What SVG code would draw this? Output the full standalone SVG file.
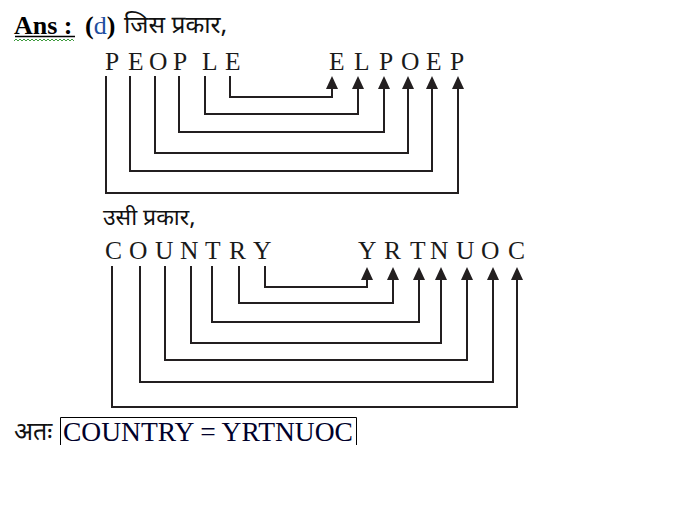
<svg xmlns="http://www.w3.org/2000/svg" width="678" height="507" viewBox="0 0 678 507">
<defs>
<style>
.lat{font-family:"Liberation Serif","Times New Roman",serif;font-size:25.5px;fill:#1a1a1a}
.dev{font-family:"Noto Sans Devanagari","Noto Sans","Lohit Devanagari",sans-serif;font-size:23px;fill:#111}
.conn{fill:none;stroke:#231f20;stroke-width:2;marker-end:url(#ah)}
</style>
<marker id="ah" markerUnits="userSpaceOnUse" markerWidth="13" markerHeight="13" viewBox="0 0 13 13" refX="1" refY="6.5" orient="auto">
<path d="M0,0.5 L13,6.5 L0,12.5 z" fill="#231f20"/>
</marker>
</defs>
<rect width="678" height="507" fill="#fff"/>
<g id="header">
<text x="14" y="34" style="font-family:'Liberation Serif',serif;font-size:26px;font-weight:bold;fill:#000">Ans :</text>
<line x1="15" y1="36.5" x2="75" y2="36.5" stroke="#000" stroke-width="1.5"/>
<path d="M14 41 l2 -2 l2 2 l2 -2 l2 2 l2 -2 l2 2 l2 -2 l2 2 l2 -2 l2 2 l2 -2 l2 2 l2 -2 l2 2 l2 -2 l2 2 l2 -2 l2 2 l2 -2 l2 2 l2 -2 l2 2 l2 -2 l2 2 l2 -2 l2 2 l2 -2 l2 2 l2 -2 l2 2" fill="none" stroke="#3c9a3c" stroke-width="1"/>
<text x="85" y="34" style="font-family:'Liberation Serif',serif;font-size:26px;font-weight:bold;fill:#000">(<tspan font-weight="normal" fill="#1f4f9f">d</tspan>)</text>
<text class="dev" x="124" y="33" style="font-size:24.5px">जिस प्रकार,</text>
</g>
<g id="people">
<text class="lat" x="105 128 149 173 202 225" y="70">PEOPLE</text>
<text class="lat" x="329 354 379 401 426 450" y="70">ELPOEP</text>
</g>
<g id="people-connectors">
<path class="conn" d="M230 76 V97 H332 V88"/>
<path class="conn" d="M205 76 V114 H358 V88"/>
<path class="conn" d="M179 76 V132 H384 V88"/>
<path class="conn" d="M155 76 V153 H408 V88"/>
<path class="conn" d="M130 76 V171 H432 V88"/>
<path class="conn" d="M106 76 V193 H458 V88"/>
</g>
<g id="subhead">
<text class="dev" x="103" y="225">उसी प्रकार,</text>
</g>
<g id="country">
<text class="lat" x="105 129 155 180 205 229 253" y="259">COUNTRY</text>
<text class="lat" x="358 384 410 430 456 481 508" y="259">YRTNUOC</text>
</g>
<g id="country-connectors">
<path class="conn" d="M265 266 V287 H367 V279"/>
<path class="conn" d="M239 266 V303 H393 V279"/>
<path class="conn" d="M212 266 V322 H419 V279"/>
<path class="conn" d="M191 266 V343 H441 V279"/>
<path class="conn" d="M165 266 V360 H467 V279"/>
<path class="conn" d="M140 266 V382 H493 V279"/>
<path class="conn" d="M112 266 V407 H517 V279"/>
</g>
<g id="result">
<text class="dev" x="14" y="440" style="font-size:25px">अतः</text>
<path d="M60.5 445 V417.5 H356.5 V445" fill="none" stroke="#000" stroke-width="1"/>
<text x="63" y="441" style="font-family:'Liberation Serif',serif;font-size:27.5px;fill:#00002a">COUNTRY = YRTNUOC</text>
</g>
</svg>
